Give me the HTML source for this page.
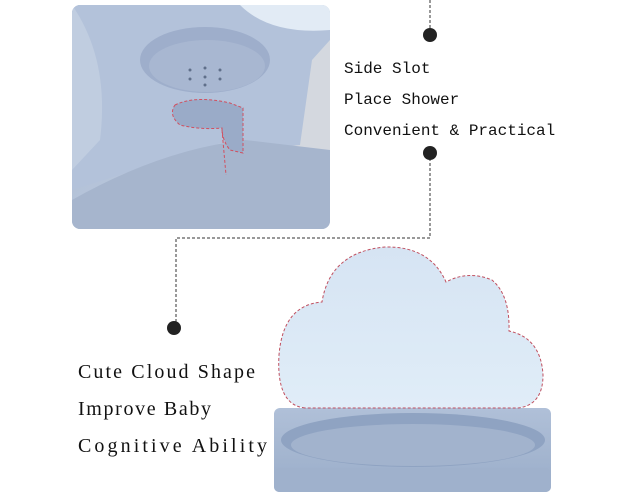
<!DOCTYPE html>
<html><head><style>
html,body{margin:0;padding:0;background:#fff;}
svg{display:block}
text{fill:#111;}
</style></head><body>
<svg width="625" height="500" viewBox="0 0 625 500">
<defs>
<linearGradient id="ph" x1="0" y1="0" x2="1" y2="1">
<stop offset="0" stop-color="#a9b8d0"/><stop offset="0.6" stop-color="#b9c7dc"/><stop offset="1" stop-color="#c6d0df"/>
</linearGradient>
<linearGradient id="cl" x1="0" y1="0" x2="0" y2="1">
<stop offset="0" stop-color="#d6e4f3"/><stop offset="1" stop-color="#e0edf8"/>
</linearGradient>
<linearGradient id="tr" x1="0" y1="0" x2="0" y2="1">
<stop offset="0" stop-color="#b0c0d8"/><stop offset="1" stop-color="#9aadc9"/>
</linearGradient>
<clipPath id="pc"><rect x="72" y="5" width="258" height="224" rx="8"/></clipPath>
</defs>
<g clip-path="url(#pc)">
<rect x="72" y="5" width="258" height="224" fill="url(#ph)"/>
<rect x="290" y="40" width="40" height="190" fill="#d4d8df"/>
<path d="M72 5 L250 5 Q300 30 330 15 L330 40 L312 60 L300 145 L250 150 L230 140 L72 190 Z" fill="#b3c2da"/>
<path d="M72 5 Q110 60 100 140 L72 170 Z" fill="#c0cde0"/>
<path d="M240 5 Q270 35 330 30 L330 5 Z" fill="#e2ebf5"/>
<ellipse cx="205" cy="60" rx="65" ry="33" fill="#9eaecb"/>
<ellipse cx="207" cy="66" rx="58" ry="26" fill="#a8b7d1"/>
<g fill="#5f6f8a"><circle cx="190" cy="70" r="1.5"/><circle cx="205" cy="68" r="1.5"/><circle cx="220" cy="70" r="1.5"/><circle cx="190" cy="79" r="1.5"/><circle cx="205" cy="77" r="1.5"/><circle cx="220" cy="79" r="1.5"/><circle cx="205" cy="85" r="1.5"/></g>
<path d="M72 200 Q160 150 245 140 L330 150 L330 229 L72 229 Z" fill="#a6b5cd"/>
<path d="M175 105 Q195 95 230 103 L243 108 L243 153 L230 150 Q222 140 222 128 Q200 130 180 125 Q168 115 175 105 Z" fill="#9aabc8" stroke="#d05060" stroke-width="1" stroke-dasharray="3,2"/>
<path d="M222 130 L226 175" stroke="#d05060" stroke-width="1" stroke-dasharray="3,2"/>
</g>
<g stroke="#333" stroke-width="1" stroke-dasharray="3,2" fill="none">
<path d="M430 0 L430 35"/>
<path d="M430 153 L430 238 L176 238 L176 328"/>
</g>
<circle cx="430" cy="35" r="7" fill="#222"/>
<circle cx="430" cy="153" r="7" fill="#222"/>
<circle cx="174" cy="328" r="7" fill="#222"/>
<g font-family="'Liberation Mono',monospace" font-size="16">
<text x="344" y="73">Side Slot</text>
<text x="344" y="104">Place Shower</text>
<text x="344" y="135">Convenient &amp; Practical</text>
</g>
<g font-family="'Liberation Serif',serif" font-size="20">
<text x="78" y="378" textLength="177" lengthAdjust="spacing">Cute Cloud Shape</text>
<text x="78" y="415" textLength="133" lengthAdjust="spacing">Improve Baby</text>
<text x="78" y="452" textLength="189" lengthAdjust="spacing">Cognitive Ability</text>
</g>
<rect x="274" y="408" width="277" height="84" rx="6" fill="url(#tr)"/>
<rect x="274" y="468" width="277" height="24" rx="5" fill="#9fb1cc"/>
<ellipse cx="413" cy="440" rx="132" ry="27" fill="#8fa3c2"/>
<ellipse cx="413" cy="445" rx="122" ry="21" fill="#a2b3cd"/>
<path d="M305 408 Q276 405 279 355 Q283 305 322 302 Q330 252 385 247 Q430 246 446 282 Q468 270 492 280 Q510 295 509 331 Q541 338 543 375 Q543 405 518 408 Z" fill="url(#cl)" stroke="#c05060" stroke-width="1" stroke-dasharray="3,2"/>
</svg>
</body></html>
